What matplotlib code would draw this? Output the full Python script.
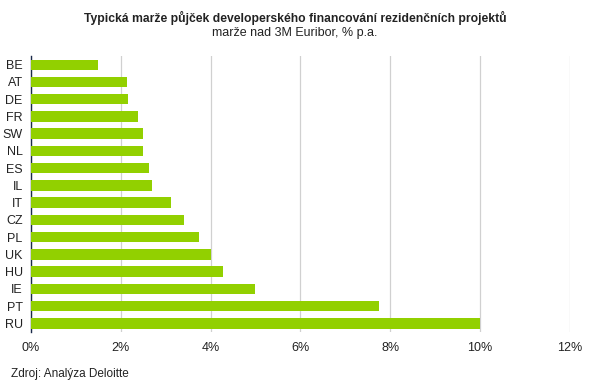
import numpy as np
import matplotlib
matplotlib.use("Agg")
import matplotlib.pyplot as plt

plt.rcParams['font.family'] = ['Liberation Sans', 'DejaVu Sans']

# data (margin over 3M Euribor, % p.a.)
countries = ["BE", "AT", "DE", "FR", "SW", "NL", "ES", "IL",
             "IT", "CZ", "PL", "UK", "HU", "IE", "PT", "RU"]
margins = [1.5, 2.15, 2.17, 2.38, 2.5, 2.5, 2.63, 2.7,
           3.13, 3.4, 3.75, 4.0, 4.27, 5.0, 7.75, 10.0]
ticks = [0, 2, 4, 6, 8, 10, 12]
tick_labels = [f"{t}%" for t in ticks]

fig = plt.figure(figsize=(5.9, 3.92), dpi=100)
ax = fig.add_axes([0.0525, 0.153, 0.913, 0.704])

y = np.arange(len(countries))
ax.barh(y, margins, height=0.6, color="#92d000", zorder=3)
ax.set_ylim(len(countries) - 0.5, -0.5)
ax.set_yticks(y)
ax.set_yticklabels(countries, fontsize=9)
ax.set_xlim(0, 12)
ax.set_xticks(ticks)
ax.set_xticklabels(tick_labels, fontsize=9)
ax.tick_params(axis="both", length=0, pad=7, colors="#222222")
ax.tick_params(axis="y", pad=6)
ax.xaxis.grid(True, color="#d0d0d0", linewidth=0.9, zorder=0)

for s in ["top", "right", "bottom"]:
    ax.spines[s].set_visible(False)
ax.spines["left"].set_color("#1a2a4a")
ax.spines["left"].set_linewidth(1.0)

fig.text(0.5, 0.955, "Typická marže půjček developerského financování rezidenčních projektů",
         ha="center", va="center", fontsize=8.7, fontweight="bold", color="#222222")
fig.text(0.5, 0.915, "marže nad 3M Euribor, % p.a.",
         ha="center", va="center", fontsize=9, color="#222222")
fig.text(0.019, 0.045, "Zdroj: Analýza Deloitte", ha="left", va="center",
         fontsize=8.5, color="#222222")

fig.savefig("out.png", dpi=100)
